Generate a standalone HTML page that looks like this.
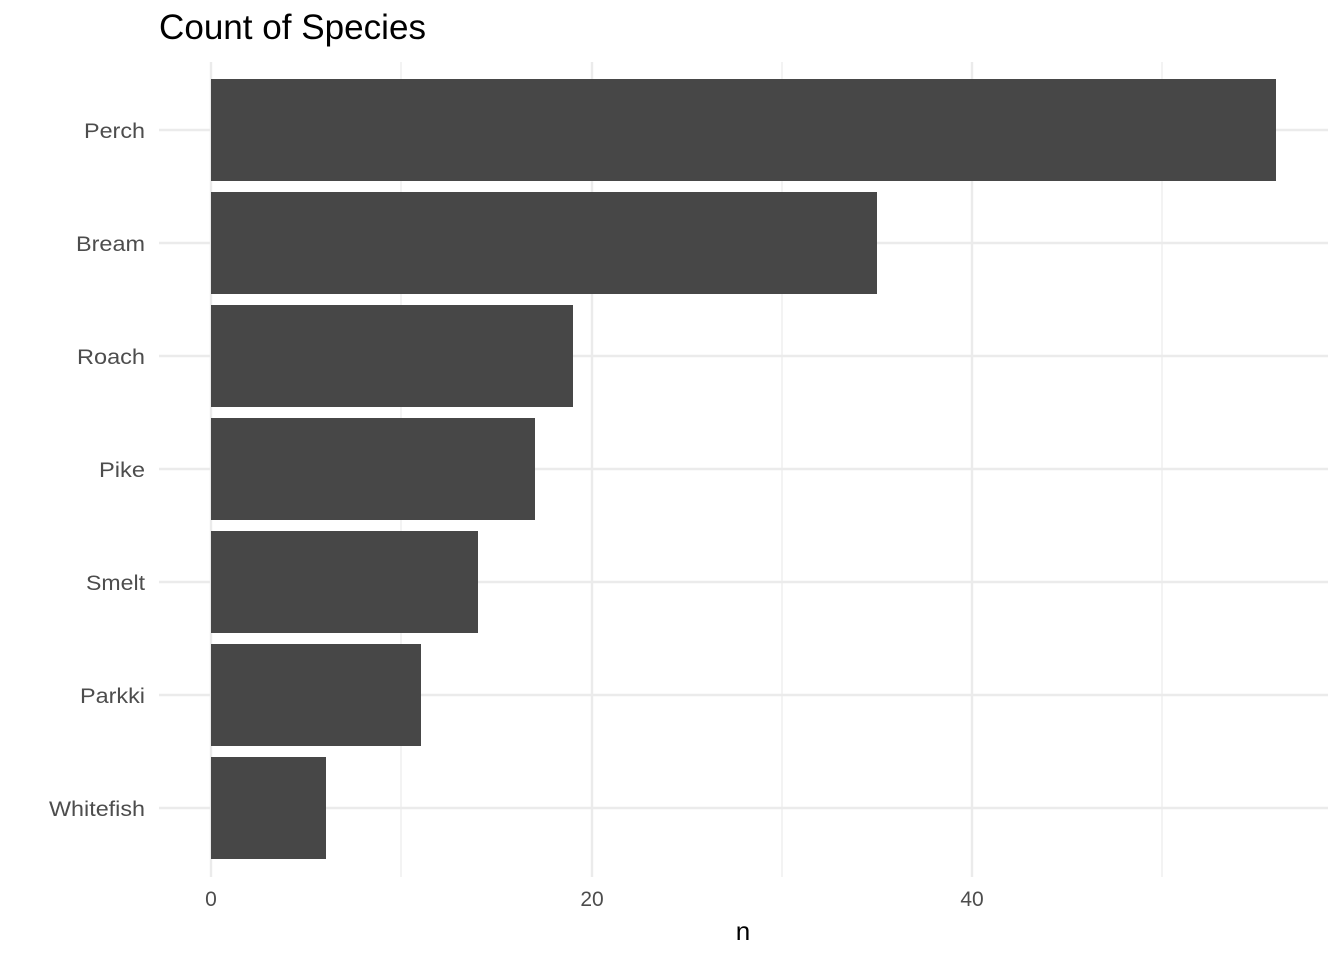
<!DOCTYPE html>
<html><head><meta charset="utf-8"><style>html,body{margin:0;padding:0;background:#fff}</style></head>
<body>
<svg width="1344" height="960" xmlns="http://www.w3.org/2000/svg" font-family="Liberation Sans, Arial, sans-serif">
<rect width="1344" height="960" fill="#fff"/>
<g stroke="#ebebeb">
<line x1="401" y1="62" x2="401" y2="877" stroke-width="1.2"/>
<line x1="782" y1="62" x2="782" y2="877" stroke-width="1.2"/>
<line x1="1162" y1="62" x2="1162" y2="877" stroke-width="1.2"/>
<line x1="211" y1="62" x2="211" y2="877" stroke-width="2.4"/>
<line x1="592" y1="62" x2="592" y2="877" stroke-width="2.4"/>
<line x1="972" y1="62" x2="972" y2="877" stroke-width="2.4"/>
<line x1="159" y1="130" x2="1328" y2="130" stroke-width="2.4"/>
<line x1="159" y1="243" x2="1328" y2="243" stroke-width="2.4"/>
<line x1="159" y1="356" x2="1328" y2="356" stroke-width="2.4"/>
<line x1="159" y1="469" x2="1328" y2="469" stroke-width="2.4"/>
<line x1="159" y1="582" x2="1328" y2="582" stroke-width="2.4"/>
<line x1="159" y1="695" x2="1328" y2="695" stroke-width="2.4"/>
<line x1="159" y1="808" x2="1328" y2="808" stroke-width="2.4"/>
</g>
<g fill="#474747">
<rect x="211" y="79" width="1065" height="102"/>
<rect x="211" y="192" width="666" height="102"/>
<rect x="211" y="305" width="362" height="102"/>
<rect x="211" y="418" width="324" height="102"/>
<rect x="211" y="531" width="267" height="102"/>
<rect x="211" y="644" width="210" height="102"/>
<rect x="211" y="757" width="115" height="102"/>
</g>
<g fill="#4d4d4d" font-size="21" text-anchor="end">
<text x="145" y="138" textLength="61" lengthAdjust="spacingAndGlyphs">Perch</text>
<text x="145" y="251" textLength="69" lengthAdjust="spacingAndGlyphs">Bream</text>
<text x="145" y="364" textLength="68" lengthAdjust="spacingAndGlyphs">Roach</text>
<text x="145" y="477" textLength="46" lengthAdjust="spacingAndGlyphs">Pike</text>
<text x="145" y="590" textLength="59" lengthAdjust="spacingAndGlyphs">Smelt</text>
<text x="145" y="703" textLength="65" lengthAdjust="spacingAndGlyphs">Parkki</text>
<text x="145" y="816" textLength="96" lengthAdjust="spacingAndGlyphs">Whitefish</text>
</g>
<g fill="#4d4d4d" font-size="21" text-anchor="middle">
<text x="211" y="906">0</text>
<text x="592" y="906">20</text>
<text x="972" y="906">40</text>
</g>
<text x="743" y="940" font-size="26" text-anchor="middle" fill="#000">n</text>
<text x="159" y="39" font-size="35" fill="#000" textLength="267" lengthAdjust="spacingAndGlyphs">Count of Species</text>
</svg>
</body></html>
